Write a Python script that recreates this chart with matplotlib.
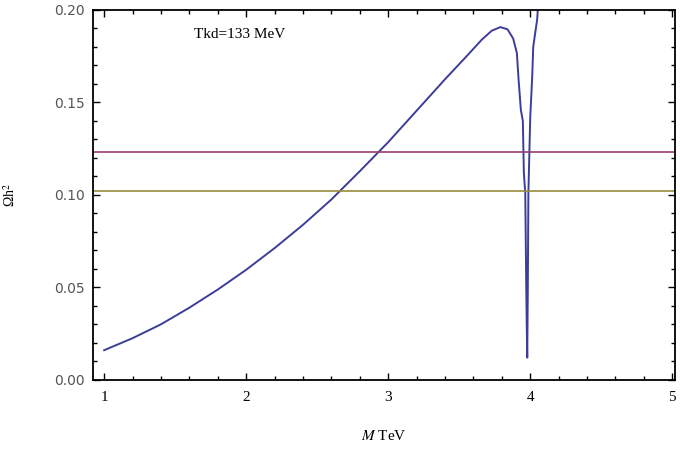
import numpy as np
import matplotlib
matplotlib.use("Agg")
import matplotlib.pyplot as plt
from matplotlib.ticker import MultipleLocator

plt.rcParams['mathtext.fontset'] = 'stix'

# datos
masa = [1.0, 1.2, 1.4, 1.6, 1.8, 2.0, 2.2, 2.4, 2.6, 2.8, 3.0, 3.2, 3.4,
        3.55, 3.66, 3.73, 3.79, 3.84, 3.88, 3.906, 3.918, 3.934, 3.948,
        3.955, 3.965, 3.972, 3.976, 3.979, 3.983, 3.987, 4.0, 4.014, 4.021,
        4.049, 4.065]
omega = [0.016, 0.0225, 0.0300, 0.0390, 0.0488, 0.0595, 0.0712, 0.0838,
         0.0975, 0.1128, 0.1285, 0.1455, 0.1625, 0.1748, 0.1840, 0.1888,
         0.1907, 0.1895, 0.1845, 0.1766, 0.1622, 0.1459, 0.140, 0.112,
         0.101, 0.050, 0.026, 0.012, 0.050, 0.101, 0.142, 0.164, 0.180,
         0.195, 0.215]
limite_sup = 0.123
limite_inf = 0.102
etiqueta = "Tkd=133 MeV"

azul = "#3d3d99"
magenta = "#993d71"
amarillo = "#998b3d"

fig = plt.figure(figsize=(6.8, 4.5), dpi=100)
ax = fig.add_axes([0.137, 0.156, 0.856, 0.822])

ax.plot(masa, omega, color=azul, lw=1.4)
ax.axhline(limite_sup, color=magenta, lw=1.2)
ax.axhline(limite_inf, color=amarillo, lw=1.2)

ax.set_xlim(0.9225, 5.021)
ax.set_ylim(0.0, 0.2)

ax.xaxis.set_major_locator(MultipleLocator(1))
ax.xaxis.set_minor_locator(MultipleLocator(0.2))
ax.yaxis.set_major_locator(MultipleLocator(0.05))
ax.yaxis.set_minor_locator(MultipleLocator(0.01))
ax.tick_params(which="both", direction="in", top=True, right=True, width=1)
ax.tick_params(which="major", length=5)
ax.tick_params(which="minor", length=3)
ax.tick_params(axis="y", which="major", pad=6)
ax.tick_params(axis="x", which="major", pad=8)

ax.set_yticks([0.0, 0.05, 0.10, 0.15, 0.20])
ax.set_yticklabels(["0.00", "0.05", "0.10", "0.15", "0.20"],
                   family="DejaVu Sans", color="#555555", fontsize=10)
ax.set_xticks([1, 2, 3, 4, 5])
ax.set_xticklabels(["1", "2", "3", "4", "5"], family="Liberation Serif",
                   fontsize=11)

for s in ax.spines.values():
    s.set_linewidth(1.3)

ax.set_xlabel("$M$ TeV", family="Liberation Serif", fontsize=11, labelpad=18)
ax.set_ylabel("Ωh$^2$", family="Liberation Serif", fontsize=10, labelpad=26)
ax.text(1.63, 0.1865, etiqueta, family="Liberation Serif", fontsize=11,
        va="center", ha="left")

plt.savefig("out.png", dpi=100)
